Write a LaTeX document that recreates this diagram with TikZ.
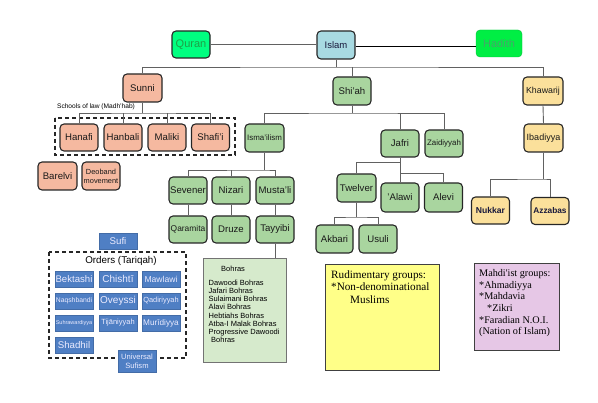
\documentclass[tikz,border=0pt]{standalone}
\usepackage{fontspec}
\setmainfont{Liberation Sans}
\newfontfamily\serifA{Liberation Serif}
\usetikzlibrary{calc}
\definecolor{qc}{RGB}{0,255,128}
\definecolor{qt}{RGB}{30,160,70}
\definecolor{ic}{RGB}{168,218,226}
\definecolor{hc}{RGB}{0,238,68}
\definecolor{ht}{RGB}{70,165,105}
\definecolor{sunc}{RGB}{245,185,160}
\definecolor{shic}{RGB}{169,213,159}
\definecolor{khac}{RGB}{251,224,155}
\definecolor{sufc}{RGB}{79,127,196}
\definecolor{yelc}{RGB}{255,255,136}
\definecolor{purc}{RGB}{230,199,230}
\definecolor{bohc}{RGB}{214,234,204}
\definecolor{navy}{RGB}{25,25,60}
\begin{document}
\begin{tikzpicture}[x=1pt,y=-1pt,
 box/.style={draw=black!85, line width=1.1pt, rounded corners=4pt, minimum width=38pt, minimum height=27pt, inner sep=0.5pt, align=center, font=\fontsize{9.6}{10}\selectfont, text=black!90},
 sun/.style={box, fill=sunc},
 shi/.style={box, fill=shic},
 kha/.style={box, fill=khac},
 suf/.style={fill=sufc, draw=sufc!85!black, line width=0.3pt, minimum width=38pt, minimum height=16pt, inner sep=0pt, text=white!92!blue, align=center},
 con/.style={draw=black!62, line width=0.9pt},
 dbox/.style={draw=black!85, line width=1.2pt, dash pattern=on 4pt off 3pt},
 fs/.style={font=\fontsize{#1}{#1}\selectfont}
]
\useasboundingbox (0,0) rectangle (598,403);
% top row
\node[box, fill=qc, text=qt, fs=11] (quran) at (191,44.5) {Quran};
\node[box, fill=ic, text=navy, minimum height=28pt, fs=9.5] (islam) at (336,45) {Islam};
\node[box, fill=hc, draw=hc!80!black, line width=0.4pt, text=ht, minimum width=46pt, fs=11] (hadith) at (499,43.5) {Hadith};
% second row
\node[sun, minimum width=39pt, minimum height=28pt] (sunni) at (142.5,88) {Sunni};
\node[shi, minimum height=28pt] (shiah) at (352,91) {Shi'ah};
\node[kha, minimum width=40pt, minimum height=28pt, fs=8.8] (khawarij) at (543,91) {Khawarij};
% Sunni
\node[fs=6.6, inner sep=0pt] (schools) at (96,107) {Schools of law (Madh'hab)};
\draw[dbox] (55,118) rectangle (235,155);
\node[sun] (hanafi) at (79,137.5) {Hanafi};
\node[sun] (hanbali) at (123,137.5) {Hanbali};
\node[sun] (maliki) at (167,137.5) {Maliki};
\node[sun] (shafii) at (210.5,137.5) {Shafi'i};
\node[sun, minimum width=39pt, minimum height=28pt] (barelvi) at (57.5,176) {Barelvi};
\node[sun, minimum height=28pt, font=\fontsize{7.4}{9}\selectfont] (deoband) at (101,176) {Deoband\\movement};
% Shi'ah
\node[shi, minimum width=39pt, minimum height=28pt, fs=7.9] (ismailism) at (264.5,138) {Isma'ilism};
\node[shi] (jafri) at (400,143.5) {Jafri};
\node[shi, fs=7.9] (zaidiyyah) at (444,143.5) {Zaidiyyah};
\node[shi] (sevener) at (188,190.5) {Sevener};
\node[shi] (nizari) at (231,190.5) {Nizari};
\node[shi] (mustali) at (275,190.5) {Musta'li};
\node[shi, fs=8.4] (qaramita) at (188,229.5) {Qaramita};
\node[shi] (druze) at (231,229.5) {Druze};
\node[shi] (tayyibi) at (275,229.5) {Tayyibi};
\node[shi, minimum width=39pt, minimum height=28pt] (twelver) at (356.5,188) {Twelver};
\node[shi, minimum height=29pt] (alawi) at (400,197.5) {'Alawi};
\node[shi, minimum height=29pt] (alevi) at (443.5,197.5) {Alevi};
\node[shi, minimum width=37pt, minimum height=28pt] (akbari) at (334.5,239) {Akbari};
\node[shi, minimum width=38pt, minimum height=28pt] (usuli) at (378,239) {Usuli};
% Khawarij
\node[kha, minimum width=39pt, minimum height=28pt, fs=9] (ibadiyya) at (543.5,138) {Ibadiyya};
\node[kha, text=navy, font=\fontsize{8.6}{9}\selectfont\bfseries] (nukkar) at (490.5,210.5) {Nukkar};
\node[kha, text=navy, font=\fontsize{8.3}{9}\selectfont\bfseries] (azzabas) at (550,211) {Azzabas};
% Bohras box
\node[draw=black!55, line width=0.8pt, fill=bohc, minimum width=83pt, minimum height=104pt, inner sep=0pt, anchor=north west] (bohras) at (203,258) {};
\node[anchor=north west, inner sep=0pt, align=left, font=\fontsize{7.5}{8.15}\selectfont] (bohlist) at (208.5,265.5)
 {\hspace*{12.5pt}Bohras\\[6.2pt]Dawoodi Bohras\\Jafari Bohras\\Sulaimani Bohras\\Alavi Bohras\\Hebtiahs Bohras\\Atba-I Malak Bohras\\Progressive Dawoodi\\\hspace*{2.5pt}Bohras};
% yellow box
\node[draw=black!75, line width=0.8pt, fill=yelc, minimum width=114pt, minimum height=106pt, inner sep=0pt, anchor=north west] (rudim) at (325,264) {};
\node[anchor=north west, inner sep=0pt, align=left, font=\serifA\fontsize{11.2}{12.5}\selectfont] (rudtext) at (331,270.5)
 {Rudimentary groups:\\*Non-denominational\\\hspace*{19pt}Muslims};
% purple box
\node[draw=black!75, line width=0.8pt, fill=purc, minimum width=85pt, minimum height=87pt, inner sep=0pt, anchor=north west] (mahdi) at (474,263) {};
\node[anchor=north west, inner sep=0pt, align=left, font=\serifA\fontsize{10.2}{11.6}\selectfont] (mahtext) at (479,269.5)
 {Mahdi'ist groups:\\*Ahmadiyya\\*Mahdavia\\\hspace*{8pt}*Zikri\\*Faradian N.O.I.\\(Nation of Islam)};
% Sufi
\node[suf, fs=9.7] (sufi) at (118,241) {Sufi};
\draw[dbox] (49,252) rectangle (186,358);
\node[inner sep=0pt, fs=9.8] (orders) at (121,260.5) {Orders (Tariqah)};
\node[suf, fs=9.6] (bektashi) at (74,279) {Bektashi};
\node[suf, fs=10] (chishti) at (118,279) {Chishtī};
\node[suf, fs=8.6] (mawlawi) at (161,279) {Mawlawi};
\node[suf, fs=6.8] (naqsh) at (74,301) {Naqshbandi};
\node[suf, fs=10] (oveyssi) at (118,301) {Oveyssi};
\node[suf, fs=7.4] (qadiri) at (161,301) {Qadiriyyah};
\node[suf, fs=5.5] (suhra) at (74,323) {Suhrawardiyya};
\node[suf, fs=7.5] (tijani) at (118,323) {Tijāniyyah};
\node[suf, fs=8.2] (muridi) at (161,323) {Murīdiyya};
\node[suf, fs=9.7] (shadhil) at (74,345) {Shadhil};
\node[suf, minimum height=22pt, font=\fontsize{7.6}{9}\selectfont] (universal) at (137,361) {Universal\\Sufism};
% connectors
\draw[con] (quran.east) -- (quran.east -| islam.west);
\draw[black, line width=0.9pt] (islam.east |- 0,46) -- (hadith.west |- 0,46);
\coordinate (b0) at (336,67);
\draw[con] (islam.south) -- (b0);
\draw[con] (sunni.north) |- (b0) -| (khawarij.north);
\draw[con] (shiah.north) -- (shiah.north |- b0);
\coordinate (b1) at (142.5,113);
\draw[con] (sunni.south) -- (b1);
\draw[con] (hanafi.north) |- (b1) -| (shafii.north);
\draw[con] (hanbali.north) -- (hanbali.north |- b1);
\draw[con] (maliki.north) -- (maliki.north |- b1);
\coordinate (b2) at (352,113);
\draw[con] (shiah.south) -- (b2);
\draw[con] (ismailism.north) |- (b2) -| (zaidiyyah.north);
\draw[con] (jafri.north) -- (jafri.north |- b2);
\coordinate (b3) at (264.5,170);
\draw[con] (ismailism.south) -- (b3);
\draw[con] (sevener.north) |- (b3) -| (mustali.north);
\draw[con] (nizari.north) -- (nizari.north |- b3);
\draw[con] (sevener.south) -- (qaramita.north);
\draw[con] (nizari.south) -- (druze.north);
\draw[con] (mustali.south) -- (tayyibi.north);
\draw[con] (tayyibi.south) -- (tayyibi.south |- bohras.north);
\coordinate (b4) at (400,162);
\coordinate (b5) at (400,173);
\draw[con] (jafri.south) -- (alawi.north);
\draw[con] (twelver.north) |- (b4);
\draw[con] (b5) -| (alevi.north);
\coordinate (b6) at (356.5,217);
\draw[con] (twelver.south) -- (b6);
\draw[con] (akbari.north) |- (b6) -| (usuli.north);
\draw[con] (khawarij.south) -- (ibadiyya.north);
\coordinate (b7) at (543.5,179);
\draw[con] (ibadiyya.south) -- (b7);
\draw[con] (nukkar.north) |- (b7) -| (azzabas.north);
\end{tikzpicture}
\end{document}
